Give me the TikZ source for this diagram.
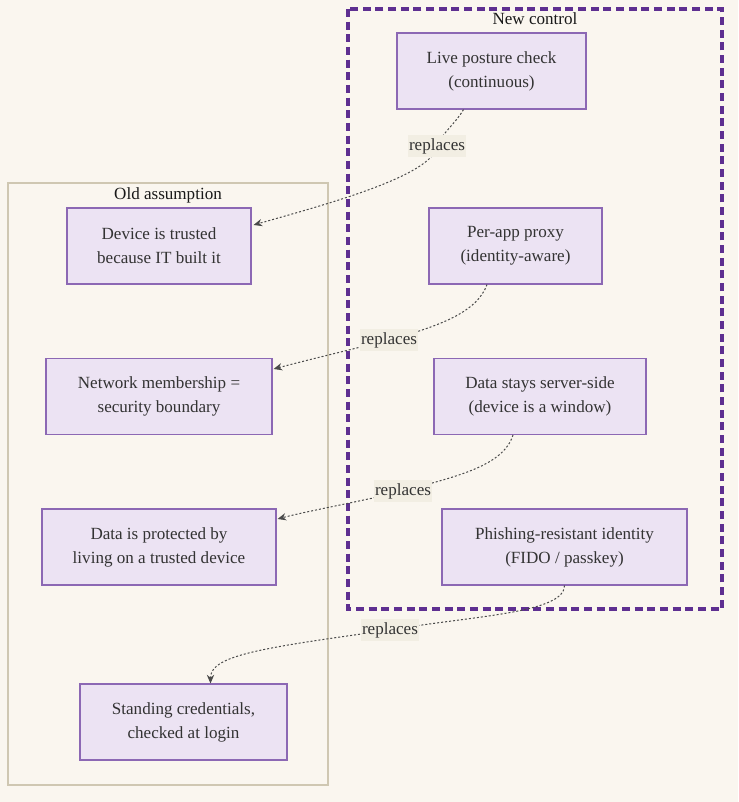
\documentclass[tikz,border=0pt]{standalone}
\usepackage{fontspec}
\setmainfont{Liberation Serif}
\usetikzlibrary{arrows.meta,calc}
\definecolor{bg}{HTML}{FAF6EF}
\definecolor{nodefill}{HTML}{ECE3F3}
\definecolor{nodeborder}{HTML}{8C68B4}
\definecolor{oldborder}{HTML}{CFC7B2}
\definecolor{newborder}{HTML}{5E2F91}
\definecolor{labfill}{HTML}{F2EEE3}
\definecolor{edgec}{HTML}{4A4A4A}
\definecolor{txt}{HTML}{333333}
\begin{document}
\begin{tikzpicture}[x=0.75pt,y=-0.75pt,
  every node/.style={font=\fontsize{12.8pt}{18pt}\selectfont},
  box/.style={draw=nodeborder, fill=nodefill, line width=0.8pt, text=txt, align=center,
    inner sep=0pt, minimum height=57pt},
  lab/.style={fill=labfill, text=txt, inner xsep=1pt, inner ysep=0pt, text height=12pt, text depth=5pt},
  clabel/.style={text=black!90, inner sep=0pt},
  edge/.style={draw=edgec, line width=0.75pt, dash pattern=on 1.5pt off 1.5pt,
    -{Stealth[length=6.5pt,width=5.5pt]}},
  oldc/.style={draw=oldborder, line width=1.1pt},
  newc/.style={draw=newborder, line width=2.5pt, dash pattern=on 6pt off 3.5pt}]
\fill[bg] (0,0) rectangle (738,802);
\useasboundingbox (0,0) rectangle (738,802);
% clusters
\draw[oldc] (8,183) rectangle (328,785);
\node[clabel] (oldlab) at (168,195) {Old assumption};
\draw[newc] (348,9) rectangle (722,609);
\node[clabel] (newlab) at (535,19) {New control};
% nodes
\node[box, minimum width=141.75pt] (lp) at (491.5,71) {Live posture check\\(continuous)};
\node[box, minimum width=129.75pt] (pa) at (515.5,246) {Per-app proxy\\(identity-aware)};
\node[box, minimum width=159pt] (ds) at (540,396.5) {Data stays server-side\\(device is a window)};
\node[box, minimum width=183.75pt] (ph) at (564.5,547) {Phishing-resistant identity\\(FIDO / passkey)};
\node[box, minimum width=138pt] (dev) at (159,246) {Device is trusted\\because IT built it};
\node[box, minimum width=169.5pt] (net) at (159,396.5) {Network membership =\\security boundary};
\node[box, minimum width=175.5pt] (dp) at (159,547) {Data is protected by\\living on a trusted device};
\node[box, minimum width=155.25pt] (sc) at (183.5,722) {Standing credentials,\\checked at login};
% label positions
\coordinate (c1) at (437,146);
\coordinate (c2) at (389,340);
\coordinate (c3) at (403,491);
\coordinate (c4) at (390,630);
% edges
\draw[edge] ($(lp.south)+(-28,0)$) .. controls +(-8,14) and +(6,-14) .. (c1)
  .. controls +(-4,30) and +(70,-20) .. ($(dev.east)+(2,-21)$);
\draw[edge] ($(pa.south)+(-28.5,0)$) .. controls +(-10,28) and +(50,-14) .. (c2)
  .. controls +(-40,10) and +(30,-8) .. ($(net.east)+(1,-27.5)$);
\draw[edge] ($(ds.south)+(-27,0)$) .. controls +(-10,32) and +(50,-14) .. (c3)
  .. controls +(-40,10) and +(30,-8) .. ($(dp.east)+(1,-28)$);
\draw[edge] (ph.south) .. controls +(0,28) and +(80,-14) .. (c4)
  .. controls +(-130,18) and +(0,-28) .. ($(sc.north)+(27,0)$);
% labels
\node[lab] (l1) at (c1) {replaces};
\node[lab] (l2) at (c2) {replaces};
\node[lab] (l3) at (c3) {replaces};
\node[lab] (l4) at (c4) {replaces};
\end{tikzpicture}
\end{document}
